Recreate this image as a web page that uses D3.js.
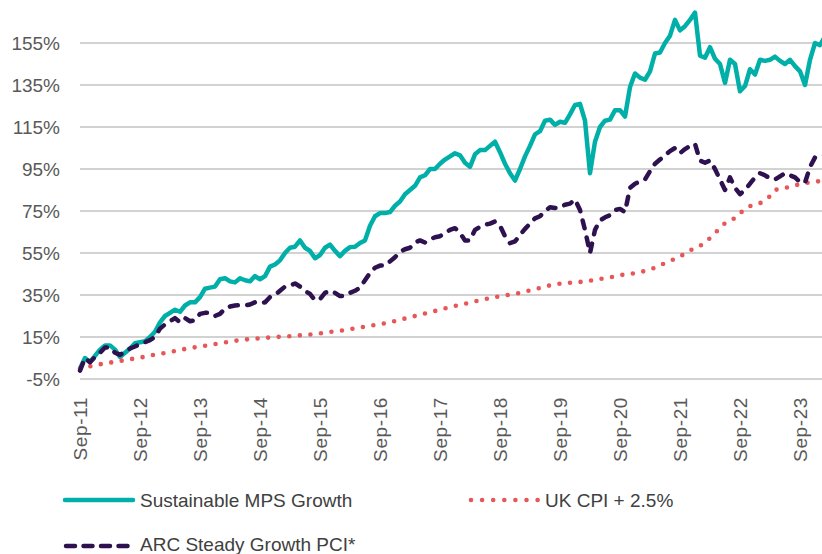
<!DOCTYPE html>
<html>
<head>
<meta charset="utf-8">
<script src="https://cdn.jsdelivr.net/npm/d3@7"></script>
<style>
  html, body { margin: 0; padding: 0; background: #ffffff; }
  svg { display: block; }
</style>
</head>
<body>
<div id="chart"></div>
<script>
// monthly values, index 0 = Sep-11
var sustainable = [
  0,5,3,6,9,11,11,9,5.5,7.5,9.5,12,
  12.5,13,15,17.5,22,25,26.5,28,27,30,31.5,31.5,
  34,38,38.5,39,42.5,43,41.5,41,43,42,41.5,44,
  42.5,44,48.5,49.5,51.5,55,57.5,58,61,57.5,56,52.5,
  54,57.5,59,56,53.5,56,57.8,58,59.8,61,68,72.5,
  74,74,74.5,77.5,79.5,83,85,87,91,92,95,95,
  97.5,99.5,101,102.5,101.5,98,96,102,104,104,106,108,
  103,97.5,93,89.5,95,101,106,111.5,113,118,118.5,116,
  117.5,117,121,125.5,126,118,93,108,115,118,118.5,123,
  123,120,134,140.5,138.5,137.5,141.5,150,150.5,155,158.5,166,
  161,163,166,169.5,149,148,153,147.5,145,136,147,145,
  132,134.5,142.5,140,147,146.5,147,148.5,146.5,145,147,144,
  141.5,135,147,155,154,158
];

var arcSteady = [
  -1,5,3,5.5,7.5,10,10,7.5,6.5,8,9.5,10.5,
  11.5,12.5,13.5,15,19,21,22.5,24,22,24,22.5,23,
  26,26.5,26.5,25,26,28.5,29.5,30,30.2,30,30.5,31.5,
  31,31.5,34,35,37,39,39.5,40.5,39,37,35.5,32.5,
  33,36,37,36,34.5,34.5,36,37,38.5,42,45.5,48,
  49,49,51,53,55.5,56.8,57.5,60,61,60,61.5,62.5,
  63,64.5,66,66.8,64.5,61,61,66,67.5,68.5,69,70,
  68,63,59.7,60.5,63.5,66.5,69,71.5,72.5,75,76.8,76.4,
  76.5,78,78.5,80.5,75.5,66,55,66,70.5,72,73,75.5,
  76,74.5,86,88,89,90,94,97.5,99.5,101.5,103.5,105,
  102.5,104.5,106,107,99,98,99,95,90,85,91,86,
  83,85,88,91,93,92,90.5,90,91.5,93,92,91,
  88.7,88.5,96,100.5,101,101.5
];

var ukCpi = [
  0,0.5,1,1.5,2,2.4,2.8,3.2,3.6,4,4.4,4.8,
  5.2,5.6,6.2,6.6,7,7.4,7.8,8.3,8.8,9.3,9.7,10.1,
  10.4,10.8,11.2,11.6,12,12.4,12.8,13.2,13.5,13.8,14,14.2,
  14.4,14.6,14.8,15,15.1,15.2,15.4,15.6,15.8,16,16.2,16.4,
  16.7,17.1,17.4,17.7,18,18.3,18.7,19.1,19.5,19.9,20.3,20.7,
  21.1,21.5,22,22.6,23.2,23.8,24.4,25,25.6,26.2,26.8,27.4,
  28,28.6,29.2,29.8,30.3,30.8,31.4,32,32.5,33,33.5,34,
  34.4,34.8,35.2,35.6,36,36.6,37.2,37.8,38.4,39,39.6,40.1,
  40.4,40.6,40.8,41,41.2,41.5,41.8,42.2,42.6,43,43.4,43.9,
  44.4,44.8,45.1,45.4,45.8,46.5,47.2,48,49.1,50.2,51.2,52.2,
  53.3,54.8,56.2,57.3,58.3,60.2,62.1,64.5,66.8,69.2,70.4,71.6,
  74,75.8,77.3,78,78.7,80.3,82,85,85.6,86,86.5,87.2,
  87.8,88.2,88.7,89,89.2,89.4
];

var yTicks = [-5, 15, 35, 55, 75, 95, 115, 135, 155];
var xTickMonths = [0, 12, 24, 36, 48, 60, 72, 84, 96, 108, 120, 132, 144];
var xTickLabels = ["Sep-11","Sep-12","Sep-13","Sep-14","Sep-15","Sep-16","Sep-17",
                   "Sep-18","Sep-19","Sep-20","Sep-21","Sep-22","Sep-23"];

var seriesNames = ["Sustainable MPS Growth", "UK CPI + 2.5%", "ARC Steady Growth PCI*"];

var width = 822, height = 554;
var font = "'Liberation Sans', Arial, sans-serif";

var svg = d3.select("#chart")
  .append("svg")
    .attr("width", width)
    .attr("height", height);

var x = d3.scaleLinear()
  .domain([0, 148.4])
  .range([80, 822]);

var y = d3.scaleLinear()
  .domain([-5, 155])
  .range([379, 43]);

// gridlines
svg.append("g")
  .selectAll("line")
  .data(yTicks)
  .enter()
  .append("line")
    .attr("x1", 80)
    .attr("x2", width)
    .attr("y1", function(d) { return y(d); })
    .attr("y2", function(d) { return y(d); })
    .style("stroke", "#c3c3c3")
    .style("stroke-width", "1.4px");

// y axis labels
var yAxis = svg.append("g")
  .attr("transform", "translate(60,0)")
  .call(d3.axisLeft(y).tickValues(yTicks).tickSize(0).tickPadding(0)
        .tickFormat(function(d) { return d + "%"; }));
yAxis.select(".domain").remove();
yAxis.selectAll("text")
  .style("font-family", font)
  .style("font-size", "19px")
  .style("fill", "#595959");

// x axis labels (rotated)
var xAxis = svg.append("g")
  .attr("transform", "translate(0,397)")
  .call(d3.axisBottom(x).tickValues(xTickMonths).tickSize(0).tickPadding(0)
        .tickFormat(function(d, i) { return xTickLabels[i]; }));
xAxis.select(".domain").remove();
xAxis.selectAll("text")
  .attr("transform", "rotate(-90)")
  .attr("x", 0)
  .attr("y", 0)
  .attr("dy", "0.35em")
  .style("text-anchor", "end")
  .style("letter-spacing", "0.6px")
  .style("font-family", font)
  .style("font-size", "19px")
  .style("fill", "#595959");

var line = d3.line()
  .x(function(d, i) { return x(i); })
  .y(function(d) { return y(d); });

// Sustainable MPS Growth
svg.append("path")
  .datum(sustainable)
  .attr("d", line)
  .style("fill", "none")
  .style("stroke", "#00b0a8")
  .style("stroke-width", "4.5px")
  .style("stroke-linejoin", "round");

// UK CPI + 2.5%
svg.append("path")
  .datum(ukCpi)
  .attr("d", line)
  .style("fill", "none")
  .style("stroke", "#e85757")
  .style("stroke-width", "4.6px")
  .style("stroke-linecap", "round")
  .style("stroke-dasharray", "0,10.6");

// ARC Steady Growth PCI*
svg.append("path")
  .datum(arcSteady)
  .attr("d", line)
  .style("fill", "none")
  .style("stroke", "#2e1250")
  .style("stroke-width", "4.5px")
  .style("stroke-linejoin", "round")
  .style("stroke-linecap", "round")
  .style("stroke-dasharray", "8,9.5");

// legend
var legend = svg.append("g");

legend.append("line")
  .attr("x1", 65).attr("x2", 133).attr("y1", 500).attr("y2", 500)
  .style("stroke", "#00b0a8").style("stroke-width", "4.5px")
  .style("stroke-linecap", "round");
legend.append("text")
  .attr("x", 140).attr("y", 507)
  .style("font-family", font).style("font-size", "19px").style("fill", "#404040")
  .text(seriesNames[0]);

legend.append("line")
  .attr("x1", 471).attr("x2", 538).attr("y1", 500).attr("y2", 500)
  .style("stroke", "#e85757").style("stroke-width", "4.6px")
  .style("stroke-linecap", "round").style("stroke-dasharray", "0,11.1");
legend.append("text")
  .attr("x", 545).attr("y", 507)
  .style("font-family", font).style("font-size", "19px").style("fill", "#404040")
  .text(seriesNames[1]);

legend.append("line")
  .attr("x1", 66).attr("x2", 134).attr("y1", 546).attr("y2", 546)
  .style("stroke", "#2e1250").style("stroke-width", "4.5px")
  .style("stroke-linecap", "round").style("stroke-dasharray", "9,8.5");
legend.append("text")
  .attr("x", 140).attr("y", 551)
  .style("font-family", font).style("font-size", "19px").style("fill", "#404040")
  .text(seriesNames[2]);
</script>
</body>
</html>
